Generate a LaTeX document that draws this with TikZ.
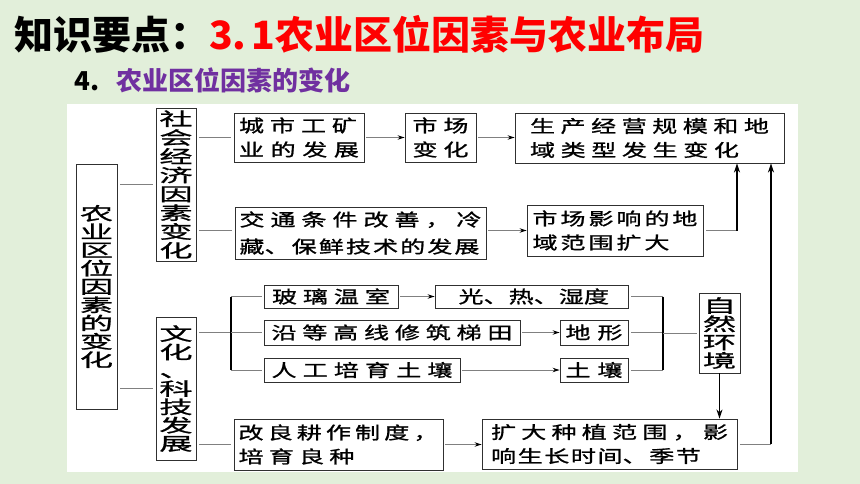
\documentclass[tikz,border=0pt]{standalone}
\usepackage{fontspec}
\usetikzlibrary{arrows.meta,calc}
\newfontfamily\tfont{Noto Sans CJK SC}
\newfontfamily\hzfont{Noto Sans CJK SC}[FakeStretch=1.45,FakeBold=1.1]
\newfontfamily\vtfont{Noto Sans CJK SC}[FakeStretch=1.85,FakeBold=1.1]
\definecolor{bgc}{HTML}{E2EFDA}
\definecolor{tred}{HTML}{FF0000}
\definecolor{tpurple}{HTML}{7030A0}
\definecolor{linec}{HTML}{808080}
\definecolor{boxc}{HTML}{303030}
\makeatletter
\newcommand\spr[2]{\hbox to #1{\let\spr@g\relax\@tfor\spr@c:=#2\do{\spr@g\spr@c\let\spr@g\hfil}}}
\makeatother
\tikzset{
  sz/.style 2 args={minimum width=#1pt, minimum height=#2pt},
  bx/.style={draw=boxc, line width=0.9pt, inner sep=0pt, align=left,
    font=\hzfont\fontsize{17.3}{24}\selectfont},
  vbx/.style={draw=boxc, line width=0.9pt, inner sep=0pt, align=center,
    font=\vtfont\fontsize{18}{18.3}\selectfont},
  ln/.style={draw=linec, line width=0.8pt},
  arr/.style={ln, -{Stealth[length=7pt,width=4.5pt,color=black]}},
  varr/.style={draw=black, line width=1.3pt, -{Stealth[length=9pt,width=6pt]}},
  brk/.style={draw=black, line width=1.1pt},
  ttl/.style={anchor=base west, inner sep=0pt}
}
\begin{document}
\begin{tikzpicture}[x=1pt,y=-1pt]
\useasboundingbox (0,0) rectangle (860,484);
\fill[bgc] (0,0) rectangle (860,484);
\fill[white] (67,104) rectangle (798,472);

% titles
\node[ttl, font=\tfont\bfseries\fontsize{39}{39}\selectfont] (t1) at (14,49.5)
  {知识要点：\textcolor{tred}{3.\kern5pt 1农业区位因素与农业布局}};
\node[ttl, font=\tfont\bfseries\fontsize{26}{26}\selectfont] (t2) at (74,90.5) {4.};
\node[ttl, font=\tfont\bfseries\fontsize{26}{26}\selectfont, text=tpurple] (t3) at (116,90.5) {农业区位因素的变化};

% vertical boxes
\node[vbx, sz={41}{245}] (L) at (96.5,286.5) {农\\业\\区\\位\\因\\素\\的\\变\\化};
\node[vbx, sz={40}{153}, font=\vtfont\fontsize{18}{18.8}\selectfont] (S) at (176,184.5) {社\\会\\经\\济\\因\\素\\变\\化};
\node[vbx, sz={40}{143}] (C) at (176,388.5) {文\\化\\、\\科\\技\\发\\展};
\node[vbx, sz={41}{80}] (Nat) at (719.5,333) {自\\然\\环\\境};

% horizontal boxes
\node[bx, sz={130}{49}] (City) at (299,137.5) {\spr{118pt}{城市工矿}\\\spr{120pt}{业的发展}};
\node[bx, sz={71}{49}] (Mkt) at (440.5,137.5) {\spr{56pt}{市场}\\\spr{56pt}{变化}};
\node[bx, sz={269}{50}] (Prod) at (649.5,138) {\spr{239pt}{生产经营规模和地}\\\spr{209pt}{域类型发生变化}};
\node[bx, sz={251}{52}, font=\hzfont\fontsize{17.3}{27}\selectfont] (Trans) at (360.5,233) {\spr{242pt}{交通条件改善，冷}\\\spr{240pt}{{藏、}保鲜技术的发展}};
\node[bx, sz={176}{51}] (MktInf) at (615,230.5) {\spr{165pt}{市场影响的地}\\\spr{137pt}{域范围扩大}};
\node[bx, sz={134}{23}] (Glass) at (331,296.5) {\spr{118pt}{玻璃温室}};
\node[bx, sz={193}{23}] (Light) at (531.5,296.5) {\spr{146pt}{{光、}{热、}湿度}};
\node[bx, sz={256}{25}] (Terr) at (392,332.5) {\spr{241pt}{沿等高线修筑梯田}};
\node[bx, sz={68}{25}] (Land) at (594,332.5) {\spr{57pt}{地形}};
\node[bx, sz={196}{24}] (Soil1) at (362,370) {\spr{181pt}{人工培育土壤}};
\node[bx, sz={68}{24}] (Soil2) at (594,370) {\spr{57pt}{土壤}};
\node[bx, sz={209}{51}] (Impr) at (338.5,444.5) {\spr{200pt}{改良耕作制度，}\\\spr{116pt}{培育良种}};
\node[bx, sz={255}{50}] (Exp) at (609.5,444) {\spr{237pt}{扩大种植范围，影}\\\spr{210pt}{响生长时{间、}季节}};

% helper coordinates
\coordinate (b1) at (231,333);
\coordinate (b2) at (663,333);
\coordinate (u1) at ([xshift=87.5pt]Prod.south);
\coordinate (u2) at ([xshift=121.5pt]Prod.south);
\coordinate (tw) at ([yshift=3pt]Trans.west);

% connectors
\draw[ln, shorten <=3pt, shorten >=3pt] (L.east |- S.west) -- (S.west);
\draw[ln, shorten <=3pt, shorten >=3pt] (L.east |- C.west) -- (C.west);
\draw[ln, shorten <=3pt, shorten >=3pt] (S.east |- City.west) -- (City.west);
\draw[ln, shorten <=3pt, shorten >=3pt] (S.east |- tw) -- (tw);
\draw[arr, shorten <=2pt] (City.east) -- (Mkt.west);
\draw[arr, shorten <=2pt] (Mkt.east) -- (Mkt.east -| Prod.west);
\draw[arr, shorten <=2pt] (Trans.east |- MktInf.west) -- (MktInf.west);
\draw[ln, shorten <=3pt] (MktInf.east) -- (MktInf.east -| u1);
\draw[varr] (MktInf.east -| u1) -- (u1);

\draw[ln, shorten <=3pt] (C.east |- Terr.west) -- (b1 |- Terr.west);
\draw[brk] (b1 |- Glass.west) -- (b1 |- Soil1.west);
\draw[ln, shorten >=2pt] (b1 |- Glass.west) -- (Glass.west);
\draw[ln, shorten >=2pt] (b1 |- Terr.west) -- (Terr.west);
\draw[ln, shorten >=2pt] (b1 |- Soil1.west) -- (Soil1.west);
\draw[arr, shorten <=2pt] (Glass.east) -- (Light.west);
\draw[arr, shorten <=2pt] (Terr.east) -- (Land.west);
\draw[arr, shorten <=2pt] (Soil1.east) -- (Soil2.west);
\draw[ln, shorten <=3pt] (Light.east) -- (b2 |- Light.east);
\draw[ln, shorten <=3pt] (Land.east) -- (b2 |- Land.east);
\draw[ln, shorten <=3pt] (Soil2.east) -- (b2 |- Soil2.east);
\draw[brk] (b2 |- Light.east) -- (b2 |- Soil2.east);
\draw[ln, shorten >=2pt] (b2 |- Nat.west) -- (Nat.west);
\draw[varr] (Nat.south) -- (Nat.south |- Exp.north);

\draw[ln, shorten <=3pt, shorten >=3pt] (C.east |- Impr.west) -- (Impr.west);
\draw[arr, shorten <=2pt] (Impr.east) -- (Impr.east -| Exp.west);
\draw[ln, shorten <=3pt] (Exp.east) -- (Exp.east -| u2);
\draw[varr] (Exp.east -| u2) -- (u2);
\end{tikzpicture}
\end{document}
